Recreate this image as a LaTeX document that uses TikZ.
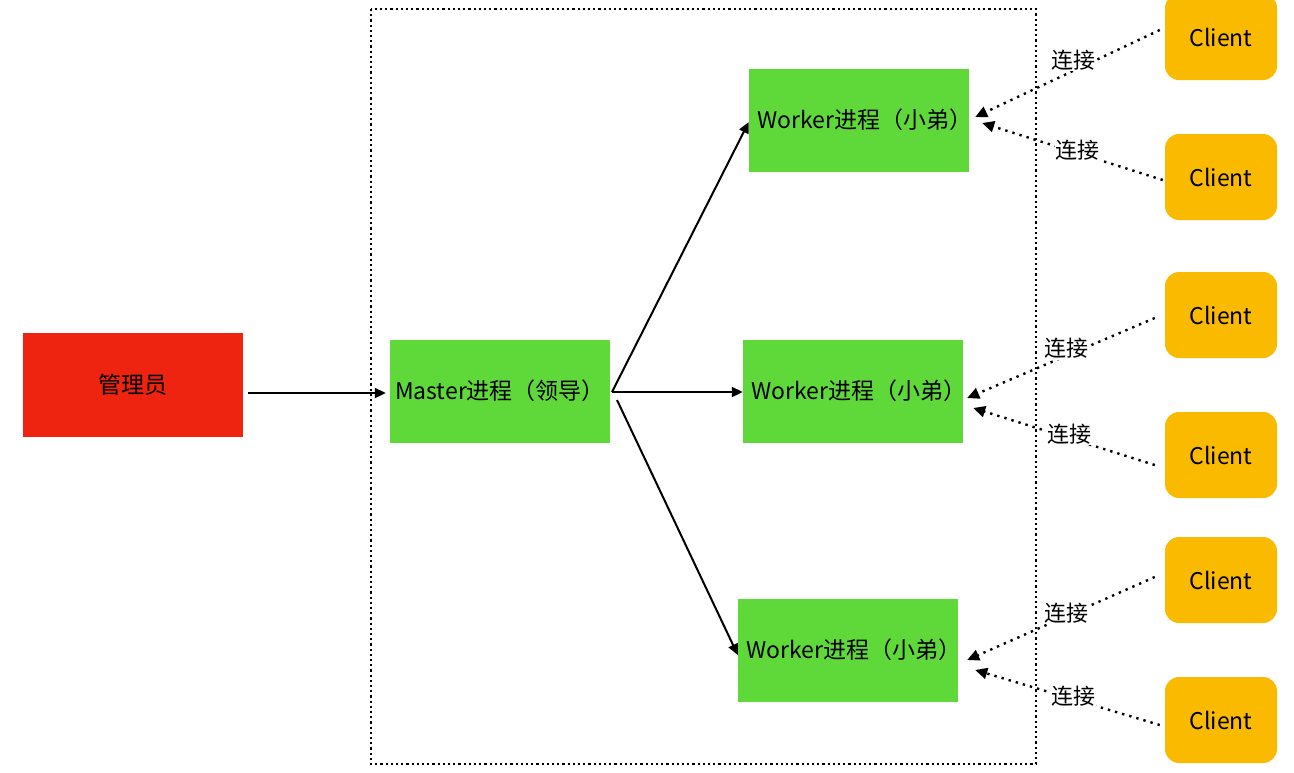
\documentclass[tikz,border=0pt]{standalone}
\usepackage{fontspec}
\setmainfont{Noto Sans CJK SC}
\usetikzlibrary{arrows.meta}
\definecolor{adminred}{HTML}{EE2310}
\definecolor{procgreen}{HTML}{5FD93A}
\definecolor{clientorange}{HTML}{F9BA00}
\tikzset{
  box/.style={draw=none, inner sep=0pt, font=\fontsize{23}{27}\selectfont},
  admin/.style={box, fill=adminred, minimum width=220pt, minimum height=104pt},
  proc/.style={box, fill=procgreen, minimum width=220pt, minimum height=103pt},
  client/.style={box, fill=clientorange, rounded corners=14pt, minimum width=112pt, minimum height=86pt},
  solidarrow/.style={line width=2pt, -{Triangle[length=11pt,width=10pt]}},
  connarrow/.style={line width=2.4pt, dash pattern=on 2.4pt off 5pt, -{Triangle[length=12pt,width=11pt]}},
  connlabel/.style={fill=white, inner sep=1pt, font=\fontsize{22}{26}\selectfont},
  frame/.style={line width=2.2pt, dash pattern=on 2.2pt off 3pt}
}
\newcommand{\workertext}{\makebox[0pt][c]{\hspace*{12pt}Worker进程（小弟）}}
\begin{document}
\begin{tikzpicture}[x=1pt,y=-1pt]
\useasboundingbox (0,0) rectangle (1294,772);
\draw[frame] (371,9) rectangle (1036,764);
\node[admin] (admin) at (133,385) {管理员};
\node[proc] (master) at (500,391) {Master进程（领导）};
\node[proc] (w1) at (859,120) {\workertext};
\node[proc] (w2) at (853,391) {\workertext};
\node[proc] (w3) at (848,650) {\workertext};
\node[client] (c1) at (1221,37) {Client};
\node[client] (c2) at (1221,177) {Client};
\node[client] (c3) at (1221,315) {Client};
\node[client] (c4) at (1221,455) {Client};
\node[client] (c5) at (1221,580) {Client};
\node[client] (c6) at (1221,720) {Client};
\coordinate (mo) at (612,392);
\coordinate (mo3) at (617,400);
\draw[solidarrow] ([xshift=5pt,yshift=-8pt]admin.east) -- ([xshift=-4pt,yshift=-2pt]master.west);
\draw[solidarrow] (mo) -- ([yshift=-2pt]w1.west);
\draw[solidarrow] (mo) -- ([yshift=-1pt]w2.west);
\draw[solidarrow] (mo3) -- ([yshift=-5pt]w3.west);
\draw[connarrow] ([xshift=-5pt,yshift=7pt]c1.west) -- node[connlabel, pos=0.47, yshift=11pt] {连接} ([xshift=6pt,yshift=3pt]w1.east);
\draw[connarrow] ([xshift=-2pt,yshift=-3pt]c2.west) -- node[connlabel, pos=0.47, yshift=3pt] {连接} ([xshift=13pt,yshift=-3pt]w1.east);
\draw[connarrow] ([xshift=-10pt,yshift=-3pt]c3.west) -- node[connlabel, pos=0.47, yshift=7pt] {连接} ([xshift=4pt,yshift=-7pt]w2.east);
\draw[connarrow] ([xshift=-10pt,yshift=-10pt]c4.west) -- node[connlabel, pos=0.47, yshift=4pt] {连接} ([xshift=10pt,yshift=-17pt]w2.east);
\draw[connarrow] ([xshift=-10pt,yshift=3pt]c5.west) -- node[connlabel, pos=0.47, yshift=3pt] {连接} ([xshift=9pt,yshift=-10pt]w3.east);
\draw[connarrow] ([xshift=-5pt,yshift=-5pt]c6.west) -- node[connlabel, pos=0.47, yshift=3pt] {连接} ([xshift=17pt,yshift=-20pt]w3.east);
\end{tikzpicture}
\end{document}
